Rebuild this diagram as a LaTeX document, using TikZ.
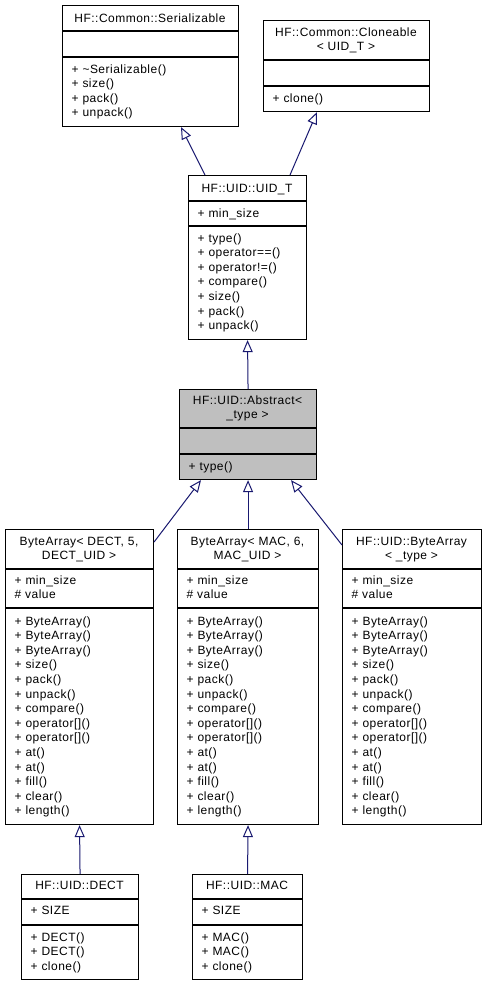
\documentclass[tikz,border=0pt]{standalone}
\usepackage{fontspec}
\newfontfamily\dgfont[LetterSpace=4]{Liberation Sans}
\usetikzlibrary{arrows.meta,calc}
\definecolor{arrowblue}{HTML}{191970}
\definecolor{absgray}{HTML}{BFBFBF}
\tikzset{
  cls/.style={draw=black, line width=1.1pt, fill=white, inner sep=0pt, anchor=north west},
  sepline/.style={draw=black, line width=1.1pt},
  mem/.style={anchor=base west, inner sep=0pt, align=left, font=\dgfont\fontsize{12}{14.6}\selectfont},
  ttl/.style={anchor=base, inner sep=0pt, align=center, font=\dgfont\fontsize{12}{14}\selectfont},
  inh/.style={draw=arrowblue, line width=1pt, -{Triangle[open, length=12pt, width=10pt, fill=white]}},
}
\begin{document}
\begin{tikzpicture}[x=1pt, y=-1pt]
\useasboundingbox[fill=white] (0,0) rectangle (486,985);
% ---- boxes
\node[cls, minimum width=176pt, minimum height=121pt] (ser) at (62,5) {};
\node[cls, minimum width=166pt, minimum height=91pt] (clo) at (263,20) {};
\node[cls, minimum width=118pt, minimum height=164pt] (uidt) at (188,175) {};
\node[cls, fill=absgray, minimum width=137pt, minimum height=90pt] (abs) at (179,389) {};
\node[cls, minimum width=148pt, minimum height=295pt] (badect) at (5,529) {};
\node[cls, minimum width=141pt, minimum height=295pt] (bamac) at (177,529) {};
\node[cls, minimum width=139pt, minimum height=295pt] (bauid) at (342,529) {};
\node[cls, minimum width=117pt, minimum height=105pt] (dect) at (21,874) {};
\node[cls, minimum width=110pt, minimum height=105pt] (mac) at (192,874) {};
% ---- separators
\foreach \b/\ya/\yb in {ser/31/57, clo/60/86, uidt/201/226, abs/428/454, badect/569/608, bamac/569/608, bauid/569/608, dect/899/925, mac/899/925}{
  \draw[sepline] (\b.west |- 0,\ya) -- (\b.east |- 0,\ya);
  \draw[sepline] (\b.west |- 0,\yb) -- (\b.east |- 0,\yb);
}
% ---- Serializable (base anchor = baseline of the last line)
\node[ttl] (sert) at (150,22) {HF::Common::Serializable};
\node[mem] (serm) at (71.5,116.8) {+ \textasciitilde Serializable()\\+ size()\\+ pack()\\+ unpack()};
% ---- Cloneable
\node[ttl] (clot) at (346,50) {HF::Common::Cloneable\\< UID\_T >};
\node[mem] (clom) at (272.5,102) {+ clone()};
% ---- UID_T
\node[ttl] (uidtt) at (247,192) {HF::UID::UID\_T};
\node[mem] (uidta) at (197.5,217) {+ min\_size};
\node[mem] (uidtm) at (197.5,329.6) {+ type()\\+ operator==()\\+ operator!=()\\+ compare()\\+ size()\\+ pack()\\+ unpack()};
% ---- Abstract
\node[ttl] (abst) at (247.5,418) {HF::UID::Abstract<\\\_type >};
\node[mem] (absm) at (188.5,470) {+ type()};
% ---- ByteArrays
\node[ttl] (badectt) at (79,559) {ByteArray< DECT, 5,\\DECT\_UID >};
\node[ttl] (bamact) at (247.5,559) {ByteArray< MAC, 6,\\MAC\_UID >};
\node[ttl] (bauidt) at (411.5,559) {HF::UID::ByteArray\\< \_type >};
\foreach \b/\x in {badect/14.5, bamac/186.5, bauid/351.5}{
  \node[mem] (\b a) at (\x,598.6) {+ min\_size\\\# value};
  \node[mem] (\b m) at (\x,814.8) {+ ByteArray()\\+ ByteArray()\\+ ByteArray()\\+ size()\\+ pack()\\+ unpack()\\+ compare()\\+ operator[]()\\+ operator[]()\\+ at()\\+ at()\\+ fill()\\+ clear()\\+ length()};
}
% ---- DECT / MAC
\node[ttl] (dectt) at (79.5,889) {HF::UID::DECT};
\node[mem] (decta) at (30.5,914) {+ SIZE};
\node[mem] (dectm) at (30.5,970.2) {+ DECT()\\+ DECT()\\+ clone()};
\node[ttl] (mact) at (247,889) {HF::UID::MAC};
\node[mem] (maca) at (201.5,914) {+ SIZE};
\node[mem] (macm) at (201.5,970.2) {+ MAC()\\+ MAC()\\+ clone()};
% ---- inheritance connectors
\draw[inh] ($(uidt.north west)+(17,0)$) -- ($(ser.south west)+(119,0)$);
\draw[inh] ($(uidt.north west)+(102,0)$) -- ($(clo.south west)+(54,0)$);
\draw[inh] (abs.north) -- (uidt.south);
\draw[inh] ($(badect.north east)+(0,13)$) -- ($(abs.south west)+(22,0)$);
\draw[inh] (bamac.north) -- (abs.south);
\draw[inh] ($(bauid.north west)+(0,16)$) -- ($(abs.south west)+(112,0)$);
\draw[inh] (dect.north) -- (badect.south);
\draw[inh] (mac.north) -- (bamac.south);
\end{tikzpicture}
\end{document}
